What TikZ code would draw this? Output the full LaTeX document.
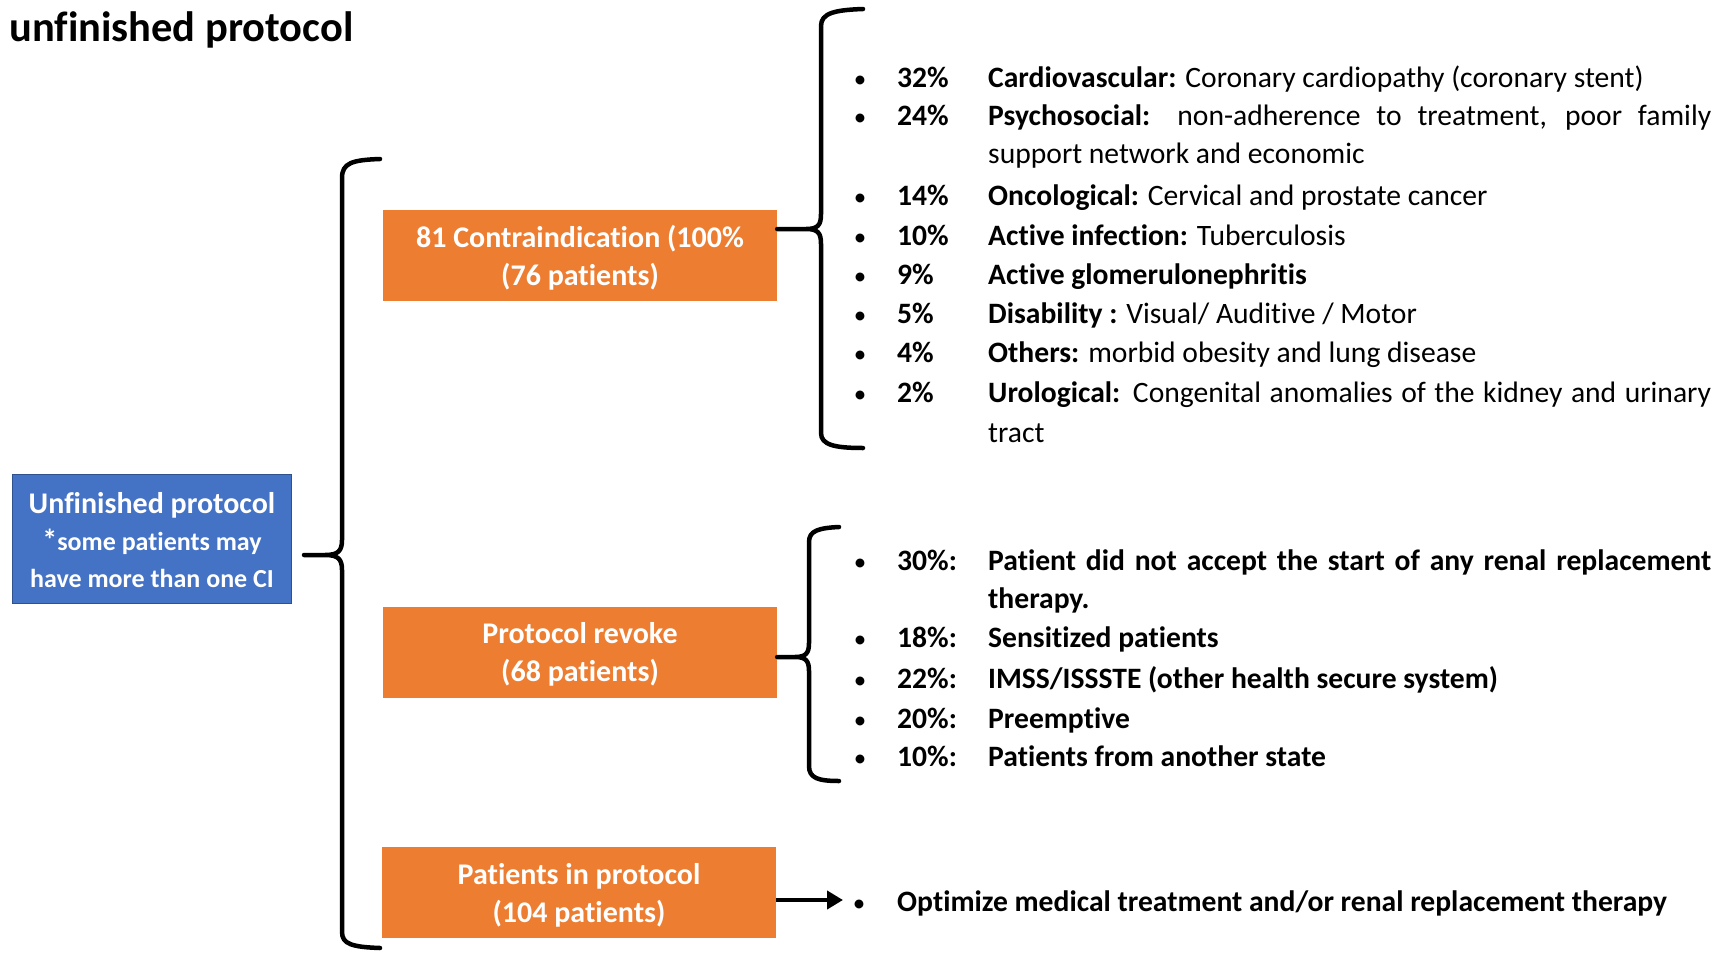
\documentclass[tikz,border=0pt]{standalone}
\usepackage{fontspec}
\setmainfont{Carlito}[Ligatures=NoCommon]
\usetikzlibrary{arrows.meta}
\definecolor{oran}{HTML}{ED7D31}
\definecolor{blu}{HTML}{4472C4}
\definecolor{bluedge}{HTML}{2F528F}
\newcommand\listrow[4]{%
  \node[bul] (#1-b) at (860,#2) {\textbullet};
  \node[pc] (#1-p) at (897,#2) {#3};
  \node[lt] (#1-t) at (988,#2) {#4};}
\begin{document}
\begin{tikzpicture}[x=1pt,y=-1pt,
  brace/.style={line width=4.5pt, line cap=round, line join=round},
  obox/.style={fill=oran, draw=none, minimum width=394pt, minimum height=91pt, inner sep=0pt,
    text=white, font=\bfseries\fontsize{30}{38}\selectfont, align=center},
  lt/.style={anchor=base west, inner sep=0pt, font=\fontsize{29.6}{34}\selectfont},
  pc/.style={lt, font=\bfseries\fontsize{29.6}{34}\selectfont},
  bul/.style={anchor=base, inner sep=0pt, font=\fontsize{25}{30}\selectfont},
]
\useasboundingbox (0,0) rectangle (1721,953);

% title
\node[anchor=base west, inner sep=0pt, font=\bfseries\fontsize{42.5}{48}\selectfont] (title) at (9,41) {unfinished protocol};

% blue box
\node[draw=bluedge, line width=1.5pt, fill=blu, minimum width=279pt, minimum height=129pt,
  inner sep=0pt, text=white, align=center, font=\bfseries\fontsize{26}{37}\selectfont] (unf) at (152,539)
  {\rule{0pt}{30pt}{\fontsize{30}{37}\selectfont Unfinished protocol}\\
   {\fontsize{30}{37}\selectfont *}some patients may\\
   have more than one CI\rule[-8pt]{0pt}{8pt}};

% orange boxes
\node[obox] (ci) at (580,255.5) {\rule{0pt}{29pt}81 Contraindication (100\%\\(76 patients)\rule[-8pt]{0pt}{8pt}};
\node[obox] (rev) at (580,652) {\rule{0pt}{29pt}Protocol revoke\\(68 patients)\rule[-8pt]{0pt}{8pt}};
\node[obox] (pip) at (579,892.5) {\rule{0pt}{29pt}Patients in protocol\\(104 patients)\rule[-8pt]{0pt}{8pt}};

% left brace
\draw[brace] (380,159) .. controls (352,160) and (342,163) .. (342,178) -- (342,540)
  .. controls (342,551) and (338,555) .. (325,555) -- (304,555) -- (325,555)
  .. controls (338,555) and (342,559) .. (342,570) -- (342,932)
  .. controls (342,944) and (352,947) .. (380,948);

% right brace 1
\draw[brace] (863,9) .. controls (835,10) and (821,13) .. (821,26) -- (821,214)
  .. controls (821,225) and (818,229) .. (806,229) -- (ci.east |- 0,229) -- (806,229)
  .. controls (818,229) and (821,233) .. (821,244) -- (821,433)
  .. controls (821,445) and (835,448) .. (863,448);

% right brace 2
\draw[brace] (839,527) .. controls (818,528) and (809,531) .. (809,542) -- (809,643)
  .. controls (809,653) and (806,657) .. (795,657) -- (rev.east |- 0,657) -- (795,657)
  .. controls (806,657) and (809,661) .. (809,671) -- (809,766)
  .. controls (809,778) and (818,781) .. (839,781);

% list 1
\listrow{a}{87}{32\%}{\textbf{Cardiovascular:} Coronary cardiopathy (coronary stent)}
\listrow{b}{125}{24\%}{\makebox[723pt][s]{\textbf{Psychosocial:} non-adherence to treatment, poor family}}
\node[lt] (b-t2) at (988,163) {support network and economic};
\listrow{c}{205}{14\%}{\textbf{Oncological:} Cervical and prostate cancer}
\listrow{d}{245}{10\%}{\textbf{Active infection:} Tuberculosis}
\listrow{e}{284}{9\%}{\textbf{Active glomerulonephritis}}
\listrow{f}{323}{5\%}{\textbf{Disability :} Visual/ Auditive / Motor}
\listrow{g}{362}{4\%}{\textbf{Others:} morbid obesity and lung disease}
\listrow{h}{402}{2\%}{\makebox[723pt][s]{\textbf{Urological:} Congenital anomalies of the kidney and urinary}}
\node[lt] (h-t2) at (988,442) {tract};

% list 2
\listrow{p}{570}{30\%:}{\makebox[723pt][s]{\bfseries Patient did not accept the start of any renal replacement}}
\node[pc] (p-t2) at (988,608) {therapy.};
\listrow{q}{647}{18\%:}{\textbf{Sensitized patients}}
\listrow{r}{688}{22\%:}{\textbf{IMSS/ISSSTE (other health secure system)}}
\listrow{s}{728}{20\%:}{\textbf{Preemptive}}
\listrow{t}{766}{10\%:}{\textbf{Patients from another state}}

% arrow and last item
\coordinate (arrE) at (843,900);
\draw[line width=4.5pt, -{Triangle[length=16pt,width=18pt]}] ([yshift=-7.5pt]pip.east) -- (arrE);
\node[bul] (o-b) at (859,911) {\textbullet};
\node[pc] (o-t) at (897,911) {Optimize medical treatment and/or renal replacement therapy};
\end{tikzpicture}
\end{document}
